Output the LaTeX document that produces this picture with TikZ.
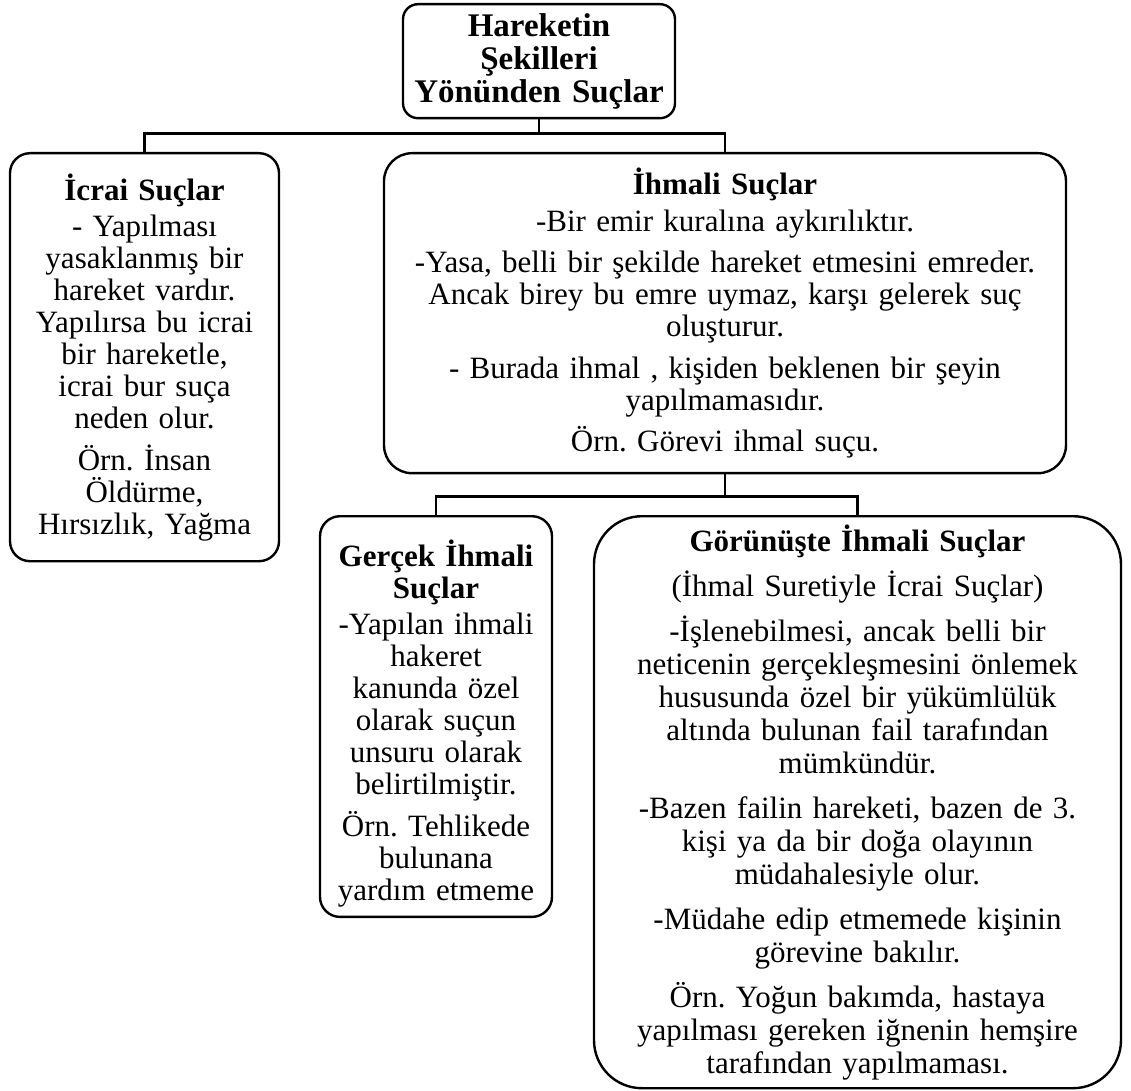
\documentclass[tikz,border=0pt]{standalone}
\usepackage{fontspec}
\setmainfont{Liberation Serif}
\frenchspacing
\usetikzlibrary{calc}

\tikzset{
  box/.style={draw, line width=1.2pt, align=center, anchor=north, inner sep=2pt},
  bus/.style={line width=1.2pt},
}

\begin{document}
\begin{tikzpicture}[x=0.5pt, y=-0.5pt, font=\fontsize{15.5pt}{16pt}\selectfont]
\useasboundingbox (0,0) rectangle (1131,1091);

% root
\node[box, rounded corners=7.5pt, minimum width=136pt, minimum height=57pt, text width=132pt,
      font=\fontsize{16.5pt}{16.5pt}\selectfont\bfseries] (root) at (539,3)
  {Hareketin\\ Şekilleri\\ Yönünden Suçlar};

% first level
\node[box, rounded corners=10pt, minimum width=134.5pt, minimum height=204pt, text width=130pt] (icrai) at (144.5,152)
  {\textbf{İcrai Suçlar}\\[2.25pt]
   - Yapılması\\ yasaklanmış bir\\ hareket vardır.\\ Yapılırsa bu icrai\\ bir hareketle,\\ icrai bur suça\\ neden olur.\\[4.75pt]
   Örn. İnsan\\ Öldürme,\\ Hırsızlık, Yağma};
\node[box, rounded corners=14pt, minimum width=341pt, minimum height=160pt, text width=336pt] (ihmali) at (725,152)
  {\textbf{İhmali Suçlar}\\[2.25pt]
   -Bir emir kuralına aykırılıktır.\\[4.75pt]
   -Yasa, belli bir şekilde hareket etmesini emreder.\\ Ancak birey bu emre uymaz, karşı gelerek suç\\ oluşturur.\\[4.75pt]
   - Burada ihmal , kişiden beklenen bir şeyin\\ yapılmamasıdır.\\[4.75pt]
   Örn. Görevi ihmal suçu.};

% second level
\node[box, rounded corners=10pt, minimum width=116pt, text width=112pt, inner ysep=5pt, text height=20pt] (gercek) at (436,515)
  {\textbf{Gerçek İhmali}\\ \textbf{Suçlar}\\[2.25pt]
   -Yapılan ihmali\\ hakeret\\ kanunda özel\\ olarak suçun\\ unsuru olarak\\ belirtilmiştir.\\[4.75pt]
   Örn. Tehlikede\\ bulunana\\ yardım etmeme};
\node[box, rounded corners=24pt, minimum width=263.5pt, minimum height=286pt, text width=259pt,
      font=\fontsize{15.5pt}{16.5pt}\selectfont] (gorunus) at (857.5,515)
  {\textbf{Görünüşte İhmali Suçlar}\\[6pt]
   (İhmal Suretiyle İcrai Suçlar)\\[6pt]
   -İşlenebilmesi, ancak belli bir\\ neticenin gerçekleşmesini önlemek\\ hususunda özel bir yükümlülük\\ altında bulunan fail tarafından\\ mümkündür.\\[6pt]
   -Bazen failin hareketi, bazen de 3.\\ kişi ya da bir doğa olayının\\ müdahalesiyle olur.\\[6pt]
   -Müdahe edip etmemede kişinin\\ görevine bakılır.\\[6pt]
   Örn. Yoğun bakımda, hastaya\\ yapılması gereken iğnenin hemşire\\ tarafından yapılmaması.};

% connectors
\draw[bus] (root.south) -- ++(0,-7pt) coordinate (bus1);
\draw[bus] (bus1) -| (icrai.north);
\draw[bus] (bus1) -| (ihmali.north);
\draw[bus] (ihmali.south) -- ++(0,-11pt) coordinate (bus2);
\draw[bus] (bus2) -| (gercek.north);
\draw[bus] (bus2) -| (gorunus.north);
\end{tikzpicture}
\end{document}
